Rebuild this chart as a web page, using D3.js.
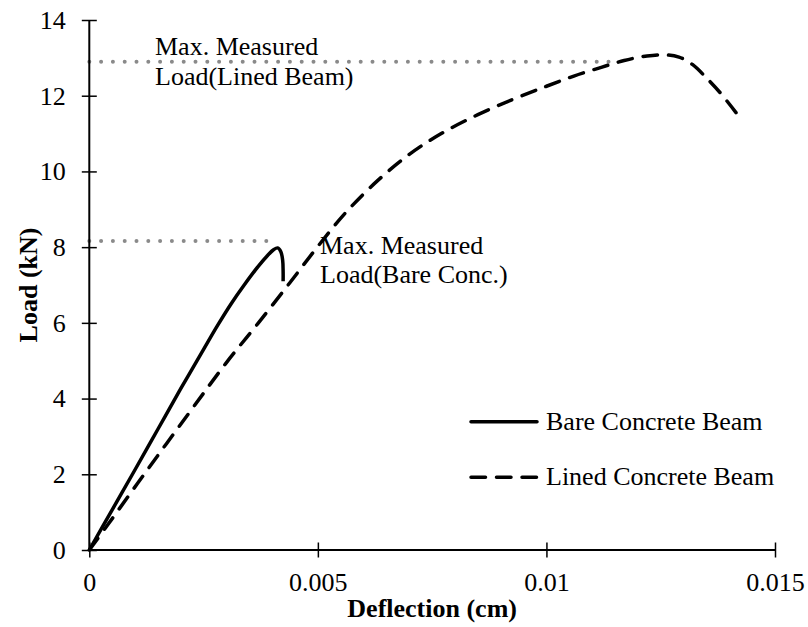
<!DOCTYPE html>
<html>
<head>
<meta charset="utf-8">
<script src="https://cdn.jsdelivr.net/npm/d3@7"></script>
<style>
  body { margin: 0; background: #fff; }
  text { font-family: "Liberation Serif", "Times New Roman", serif; fill: #000; }
</style>
</head>
<body>
<div id="chart"></div>
<script>
// deflection (cm) / load (kN)
var bareX = [0, 0.0005, 0.001, 0.0015, 0.002, 0.0025, 0.0028, 0.0031, 0.0034, 0.0037, 0.0039, 0.00403, 0.00412, 0.00419, 0.00423, 0.00424, 0.00424]
var bareY = [0, 1.06, 2.12, 3.19, 4.26, 5.3, 5.92, 6.5, 7.02, 7.5, 7.78, 7.93, 7.98, 7.88, 7.65, 7.35, 7.1]

var linedX = [0, 0.0004, 0.0012, 0.0022, 0.003, 0.0037, 0.0044, 0.005, 0.0056, 0.0063, 0.007, 0.0077, 0.0085, 0.0093, 0.01, 0.0106, 0.0112, 0.0117, 0.0122, 0.0126, 0.0129, 0.0132, 0.0135, 0.0138, 0.01415]
var linedY = [0, 0.66, 2.0, 3.65, 4.95, 6.0, 7.08, 8.02, 8.9, 9.75, 10.45, 11.0, 11.5, 11.92, 12.25, 12.52, 12.75, 12.93, 13.05, 13.08, 13.02, 12.82, 12.47, 12.08, 11.55]

var maxLined = 12.9, maxLinedEnd = 0.0114
var maxBare = 8.16, maxBareEnd = 0.00413

var xTicks = [0, 0.005, 0.01, 0.015]
var xTickLabels = ['0', '0.005', '0.01', '0.015']
var yTicks = [0, 2, 4, 6, 8, 10, 12, 14]

var seriesNames = ['Bare Concrete Beam', 'Lined Concrete Beam']

var W = 808, H = 627
var fs = 26
var serif = '"Liberation Serif", "Times New Roman", serif'

var svg = d3.select('#chart').append('svg')
  .attr('width', W)
  .attr('height', H)

svg.append('rect').attr('width', W).attr('height', H).attr('fill', '#fff')

var x = d3.scaleLinear().domain([0, 0.015]).range([89.3, 775])
var y = d3.scaleLinear().domain([0, 14]).range([550, 20])

var smooth = d3.line()
  .x(function(d){ return x(d[0]) })
  .y(function(d){ return y(d[1]) })
  .curve(d3.curveCatmullRom.alpha(0.5))

// max measured load guides
var guides = [[maxLined, maxLinedEnd], [maxBare, maxBareEnd]]
svg.append('g').selectAll('line')
  .data(guides)
  .enter().append('line')
    .attr('x1', x(0))
    .attr('x2', function(d){ return x(d[1]) })
    .attr('y1', function(d){ return y(d[0]) })
    .attr('y2', function(d){ return y(d[0]) })
    .attr('stroke', '#8a8a8a')
    .attr('stroke-width', 4)
    .attr('stroke-linecap', 'round')
    .attr('stroke-dasharray', '0,11.8')

// axes with crossing ticks
var xAxis = svg.append('g')
  .attr('transform', 'translate(0,' + y(0) + ')')
  .call(d3.axisBottom(x).tickValues(xTicks).tickFormat(function(d, i){ return xTickLabels[i] }).tickSize(7.5).tickPadding(15))
xAxis.selectAll('.tick line').attr('y1', -7.5).attr('stroke-width', 1.5)
xAxis.select('.domain').attr('d', 'M' + x(0) + ',0H' + x(0.015)).attr('stroke-width', 2)
xAxis.selectAll('text').attr('font-family', serif).style('font-size', fs + 'px')

var yAxis = svg.append('g')
  .attr('transform', 'translate(' + x(0) + ',0)')
  .call(d3.axisLeft(y).tickValues(yTicks).tickFormat(d3.format('d')).tickSize(7.5).tickPadding(16))
yAxis.selectAll('.tick line').attr('x1', 7.5).attr('stroke-width', 1.5)
yAxis.select('.domain').attr('d', 'M0,' + y(0) + 'V' + y(14)).attr('stroke-width', 2)
yAxis.selectAll('text').attr('font-family', serif).style('font-size', fs + 'px')

// data lines
var barePts = bareX.map(function(v, i){ return [v, bareY[i]] })
var linedPts = linedX.map(function(v, i){ return [v, linedY[i]] })

svg.append('path')
  .attr('d', smooth(barePts))
  .attr('fill', 'none')
  .attr('stroke', '#000')
  .attr('stroke-width', 3.5)
  .attr('stroke-linejoin', 'round')

svg.append('path')
  .attr('d', smooth(linedPts))
  .attr('fill', 'none')
  .attr('stroke', '#000')
  .attr('stroke-width', 3.5)
  .attr('stroke-linecap', 'round')
  .attr('stroke-dasharray', '14.5,11')

// annotations
var ann = svg.append('g').style('font-size', fs + 'px').attr('font-family', serif)
ann.append('text').attr('x', 155).attr('y', 55).text('Max. Measured')
ann.append('text').attr('x', 155).attr('y', 85).text('Load(Lined Beam)')
ann.append('text').attr('x', 320).attr('y', 254).text('Max. Measured')
ann.append('text').attr('x', 320).attr('y', 283).text('Load(Bare Conc.)')

// legend
var legend = svg.append('g').attr('class', 'legend')
var legendY = [421.7, 477.3]
legend.selectAll('line')
  .data(seriesNames)
  .enter().append('line')
    .attr('x1', 471)
    .attr('x2', 537)
    .attr('y1', function(d, i){ return legendY[i] })
    .attr('y2', function(d, i){ return legendY[i] })
    .attr('stroke', '#000')
    .attr('stroke-width', 3.5)
    .attr('stroke-linecap', 'round')
    .attr('stroke-dasharray', function(d, i){ return i == 1 ? '14.5,11' : null })
legend.selectAll('text')
  .data(seriesNames)
  .enter().append('text')
    .attr('x', 546)
    .attr('y', function(d, i){ return legendY[i] + 8 })
    .attr('font-family', serif)
    .style('font-size', fs + 'px')
    .text(function(d){ return d })

// axis titles
svg.append('text')
  .attr('x', x(0.0075))
  .attr('y', 617)
  .attr('text-anchor', 'middle')
  .attr('font-family', serif)
  .style('font-size', fs + 'px')
  .style('font-weight', 'bold')
  .text('Deflection (cm)')

svg.append('text')
  .attr('transform', 'translate(37,' + y(7) + ') rotate(-90)')
  .attr('text-anchor', 'middle')
  .attr('font-family', serif)
  .style('font-size', fs + 'px')
  .style('font-weight', 'bold')
  .text('Load (kN)')
</script>
</body>
</html>
